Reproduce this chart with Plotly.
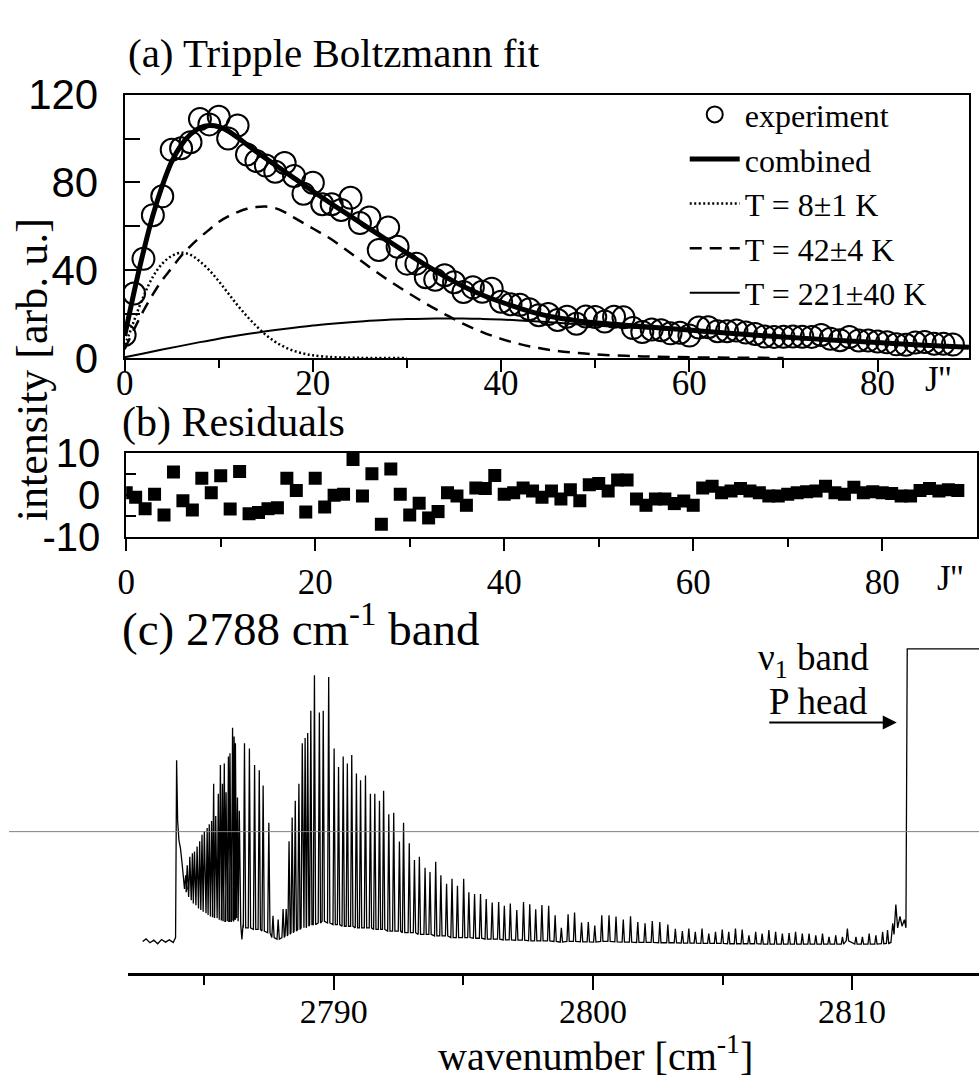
import plotly.graph_objects as go

W, H = 979, 1092
def px(x): return x / W
def py(y): return 1 - y / H

SERIF = "Liberation Serif"
SANS = "Liberation Sans"

# ---------------- panel (a): rotational population ----------------
J = list(range(89))
experiment = [10.5, 29.4, 45.2, 65.1, 73.7, 94.9, 95.6, 98.4, 108.9, 106.5,
              110.0, 100.1, 106.0, 92.8, 89.8, 87.7, 84.9, 88.9, 83.0, 74.9,
              79.9, 70.1, 70.1, 67.5, 73.0, 61.5, 64.0, 49.2, 59.5, 50.7,
              43.0, 43.0, 36.8, 35.7, 37.7, 34.5, 30.1, 32.2, 30.2, 31.6,
              25.6, 24.5, 24.2, 22.2, 19.5, 20.0, 17.3, 18.8, 15.6, 18.9,
              18.7, 16.6, 18.8, 18.5, 13.6, 11.8, 13.0, 12.6, 11.2, 11.5,
              10.2, 13.9, 14.0, 12.2, 12.2, 12.5, 11.6, 10.9, 9.8, 9.6,
              9.7, 9.8, 9.7, 9.6, 10.5, 8.7, 8.1, 9.5, 8.0, 7.9,
              7.5, 7.1, 6.2, 6.0, 7.0, 7.3, 6.5, 6.5, 6.1]

comb_J = [0, 0.5, 1, 1.5, 2, 3, 4, 5, 6, 7, 8, 9, 10, 11, 12, 14, 16, 18, 20, 22, 24, 26, 28,
          30, 32, 34, 36, 38, 40, 42, 44, 46, 48, 50, 55, 60, 65, 70, 75, 80, 85, 89.7]
comb_val = [10, 20, 30, 39.5, 48.5, 65, 78.5, 89.5, 97, 102, 105, 106, 105.5, 103.5, 100.5, 94,
            88, 82, 76, 70.2, 64.6, 59, 53.4, 47.8, 42.3, 37.2, 32.6, 28.7, 25.5, 22.6, 20.1,
            18.3, 17, 16, 14.3, 12.7, 11, 9.6, 8.2, 7, 5.8, 4.9]

t8_J = [0, 0.5, 1, 2, 3, 4, 5, 6, 7, 8, 9, 10, 11, 12, 13, 14, 15, 16, 17, 18, 19, 20, 22, 24, 26, 30]
t8_val = [6, 11, 17, 28, 37, 43, 46.5, 48, 47, 44, 40, 35, 29.5, 24, 19, 14.5, 10.5, 7.3, 5,
          3.2, 2, 1.2, 0.4, 0.1, 0, 0]

t42_J = [0, 1, 2, 3, 4, 5, 6, 7, 8, 9, 10, 11, 12, 13, 14, 15, 16, 17, 18, 20, 22, 24, 26, 28,
         30, 32, 34, 36, 38, 40, 42, 44, 46, 48, 50, 55, 60, 65, 70]
t42_val = [4, 13, 21.5, 29, 35.5, 41, 46.5, 51, 55, 58.5, 62, 64.5, 66.5, 68, 68.8, 69, 68.3,
           66.5, 64, 59, 54, 47.8, 41.5, 35.5, 30, 24.8, 20, 15.5, 11.8, 8.7, 6.3, 4.5, 3.2,
           2.3, 1.6, 0.7, 0.3, 0.1, 0]

t221_J = [0, 2, 4, 6, 8, 10, 12, 14, 16, 18, 20, 22, 24, 26, 28, 30, 32, 34, 36, 38, 40, 42,
          44, 46, 48, 50, 55, 60, 65, 70, 75, 80, 85, 89.7]
t221_val = [0.3, 2, 3.8, 5.5, 7.2, 8.8, 10.2, 11.5, 12.7, 13.8, 14.8, 15.6, 16.3, 16.9, 17.4,
            17.7, 17.9, 18, 18, 17.8, 17.5, 17.1, 16.6, 16, 15.4, 14.8, 13.5, 12.4, 11, 9.6,
            8.2, 7, 5.8, 4.9]

# ---------------- panel (b): residuals ----------------
residual = [0.5, -0.6, -3.3, 0.1, -4.8, 5.4, -1.4, -3.6, 3.9, 0.5,
            4.5, -3.4, 5.5, -4.5, -4.2, -3.3, -3.1, 3.9, 1.0, -4.1,
            3.9, -2.9, -0.1, 0.1, 8.4, -0.3, 5.0, -7.0, 6.1, 0.1,
            -4.8, -2.0, -5.5, -4.0, 0.5, -0.3, -2.5, 1.6, 1.5, 4.6,
            0.1, 0.5, 1.6, 0.9, -0.6, 0.9, -1.0, 1.2, -1.4, 2.4,
            2.7, 0.9, 3.5, 3.5, -1.0, -2.5, -1.0, -1.0, -2.1, -1.5,
            -2.5, 1.6, 2.0, 0.5, 0.9, 1.5, 0.9, 0.5, -0.3, -0.3,
            0.1, 0.5, 0.7, 0.9, 2.0, 0.5, 0.1, 1.8, 0.5, 0.7,
            0.5, 0.3, -0.3, -0.3, 1.0, 1.5, 0.9, 1.2, 1.0]

# ---------------- panel (c): spectrum ----------------
lead_wn = [2782.62, 2782.75, 2782.9, 2783.05, 2783.2, 2783.35, 2783.5, 2783.65, 2783.8, 2783.89,
           2783.93, 2783.97, 2784.02, 2784.08, 2784.14, 2784.2]
lead_val = [9.8, 10.6, 9.4, 10.2, 9.1, 10.4, 9.6, 10.3, 9.5, 11.0,
            65.7, 47.0, 41.0, 38.5, 34.0, 30.0]

peak_wn = [2784.28, 2784.34, 2784.44, 2784.54, 2784.62, 2784.72, 2784.82, 2784.91, 2785.00, 2785.11,
           2785.19, 2785.28, 2785.36, 2785.44, 2785.54, 2785.62, 2785.70, 2785.77, 2785.84, 2785.93,
           2785.99, 2786.09, 2786.15, 2786.20, 2786.28, 2786.35, 2786.45,
           2786.55, 2786.74, 2786.94, 2787.12, 2787.27, 2787.49,
           2787.65, 2787.85, 2788.04,
           2788.16, 2788.27, 2788.39, 2788.51, 2788.65, 2788.78, 2788.89, 2788.99, 2789.11, 2789.25,
           2789.44, 2789.59, 2789.80, 2790.01, 2790.18, 2790.36, 2790.52, 2790.69, 2790.87, 2791.03,
           2791.22, 2791.41, 2791.58, 2791.76, 2791.92,
           2792.12, 2792.31, 2792.53, 2792.69, 2792.91, 2793.11, 2793.30, 2793.52, 2793.71, 2793.93,
           2794.13, 2794.35, 2794.56, 2794.77, 2795.01, 2795.21, 2795.43, 2795.66, 2795.88, 2796.11,
           2796.36, 2796.58, 2796.81, 2797.06, 2797.32, 2797.56, 2797.79, 2798.03, 2798.29, 2798.54,
           2798.78, 2799.04, 2799.29, 2799.56, 2799.82, 2800.07, 2800.34, 2800.62, 2800.89, 2801.17,
           2801.45, 2801.73, 2802.01, 2802.29, 2802.58, 2802.89, 2803.18,
           2803.45, 2803.70, 2803.95, 2804.21, 2804.47, 2804.73, 2804.99, 2805.24, 2805.50, 2805.76,
           2806.02, 2806.28, 2806.53, 2806.79, 2807.05, 2807.31, 2807.57, 2807.82, 2808.08, 2808.34,
           2808.60, 2808.86, 2809.11, 2809.37, 2809.63, 2809.82, 2810.15, 2810.40, 2810.66, 2810.92,
           2811.18, 2811.37]
peak_top = [30.2, 33.3, 35.9, 37.0, 37.5, 39.1, 40.7, 42.7, 43.8, 44.8,
            45.9, 46.9, 58.4, 48.5, 55.3, 64.2, 58.4, 64.7, 55.8, 66.8,
            67.8, 75.7, 73.0, 70.9, 54.2, 50.1, 10.4,
            70.9, 69.3, 64.2, 62.6, 57.9, 46.4,
            17.7, 16.6, 19.8,
            19.8, 40.7, 48.0, 53.2, 58.4, 70.9, 72.5, 74.1, 80.9, 91.9,
            80.4, 80.9, 91.3, 69.3, 63.6, 66.8, 64.7, 67.3, 61.6, 59.5,
            61.0, 55.3, 55.3, 53.2, 56.3,
            49.0, 49.5, 40.6, 46.4, 40.1, 34.9, 35.9, 32.5, 31.2, 34.4,
            30.2, 27.6, 29.1, 27.0, 29.1, 25.0, 24.4, 24.4, 22.9, 21.8,
            22.0, 20.8, 21.5, 19.5, 22.0, 21.3, 19.7, 21.0, 20.8, 17.9,
            14.0, 18.2, 18.7, 15.6, 15.8, 14.7, 17.9, 17.9, 17.5, 16.6,
            17.6, 15.8, 15.4, 16.1, 15.8, 15.0, 13.7,
            13.0, 13.8, 12.8, 13.8, 12.2, 12.8, 13.5, 12.8, 13.8, 13.5,
            11.7, 12.8, 12.2, 13.3, 12.8, 12.2, 12.4, 12.8, 12.2, 12.2,
            11.7, 12.2, 11.2, 11.7, 11.2, 13.8, 11.2, 11.2, 12.2, 11.7,
            12.8, 13.3]
peak_base = [26, 25, 23.5, 22.5, 21.5, 21, 20, 19.5, 19, 18.5,
             18, 17.5, 17.5, 17, 17, 16.5, 16.5, 16, 16, 16,
             16, 16, 16.5, 17, 18, 16, 15,
             14, 14, 13.5, 13.5, 13, 12.5,
             11, 10.5, 11,
             11.5, 12, 12.5, 13, 13.5, 14, 14, 14.5, 15, 15,
             15.5, 16, 15.5, 15, 15, 14.5, 14.5, 14.5, 14, 14,
             14, 14, 13.5, 13.5, 13.5,
             13, 13, 13, 12.5, 12.5, 12.5, 12, 12, 12, 11.5,
             11.5, 11.5, 11, 11, 11, 11, 10.8, 10.8, 10.5, 10.5,
             10.5, 10.3, 10.3, 10.2, 10.2, 10, 10, 10, 10, 9.8,
             9.6, 9.8, 9.8, 9.7, 9.7, 9.6, 9.8, 9.8, 9.7, 9.6,
             9.6, 9.5, 9.5, 9.5, 9.4, 9.4, 9.4,
             9.3, 9.3, 9.3, 9.2, 9.2, 9.2, 9.2, 9.1, 9.1, 9.1,
             9.1, 9.1, 9.0, 9.0, 9.0, 9.0, 9.0, 9.0, 9.0, 9.0,
             9.0, 9.0, 9.0, 9.0, 9.0, 10.0, 9.0, 9.0, 9.0, 9.0,
             9.1, 9.2]

tail_wn = [2811.5, 2811.57, 2811.62, 2811.69, 2811.76, 2811.85, 2811.93, 2812.02, 2812.08, 2812.13, 2815.5]
tail_val = [9.5, 15.4, 12.0, 21.2, 14.0, 17.5, 14.5, 16.5, 14.0, 100.0, 100.0]

HW = 0.045  # half width of each drawn spike (cm-1)
spec_x, spec_y = list(lead_wn), list(lead_val)
for wn, top, base in zip(peak_wn, peak_top, peak_base):
    spec_x += [wn - HW, wn, wn + HW]
    spec_y += [base, top, base]
spec_x += tail_wn
spec_y += tail_val

# ---------------- figure ----------------
fig = go.Figure()

fig.add_trace(go.Scatter(x=J, y=experiment, mode="markers", name="experiment",
                         marker=dict(symbol="circle-open", size=22, color="black",
                                     line=dict(width=2, color="black")),
                         legendrank=1, legendgroup="g1", xaxis="x", yaxis="y"))
fig.add_trace(go.Scatter(x=t8_J, y=t8_val, mode="lines", name="T = 8±1 K",
                         line=dict(color="black", width=2.5, dash="2px,2.5px", shape="spline"),
                         legendrank=3, legendgroup="g3", xaxis="x", yaxis="y"))
fig.add_trace(go.Scatter(x=t42_J, y=t42_val, mode="lines", name="T = 42±4 K",
                         line=dict(color="black", width=2.5, dash="12px,8px", shape="spline"),
                         legendrank=4, legendgroup="g4", xaxis="x", yaxis="y"))
fig.add_trace(go.Scatter(x=t221_J, y=t221_val, mode="lines", name="T = 221±40 K",
                         line=dict(color="black", width=2, shape="spline"),
                         legendrank=5, legendgroup="g5", xaxis="x", yaxis="y"))
fig.add_trace(go.Scatter(x=comb_J, y=comb_val, mode="lines", name="combined",
                         line=dict(color="black", width=5, shape="spline"),
                         legendrank=2, legendgroup="g2", xaxis="x", yaxis="y"))

fig.add_trace(go.Scatter(x=J, y=residual, mode="markers", showlegend=False,
                         marker=dict(symbol="square", size=13, color="black"),
                         xaxis="x2", yaxis="y2"))

fig.add_trace(go.Scatter(x=spec_x, y=spec_y, mode="lines", showlegend=False,
                         line=dict(color="black", width=1.3),
                         xaxis="x3", yaxis="y3"))

axis_common = dict(showline=True, linecolor="black", linewidth=2, showgrid=False,
                   zeroline=False, tickcolor="black", tickwidth=2)

fig.update_layout(
    width=W, height=H, margin=dict(l=0, r=0, t=0, b=0),
    paper_bgcolor="white", plot_bgcolor="white",
    font=dict(family=SERIF, color="black"),
    xaxis=dict(axis_common, domain=[px(116.7), px(969)], range=[0, 89.72], anchor="y",
               mirror=True, ticks="outside", ticklen=12, ticklabelstandoff=-19,
               tickvals=[0, 20, 40, 60, 80], ticktext=["0", "20", "40", "60", "80"],
               tickfont=dict(family=SERIF, size=35),
               minor=dict(tickvals=[10, 30, 50, 70], ticks="outside", ticklen=8,
                          tickwidth=2, tickcolor="black")),
    yaxis=dict(axis_common, domain=[py(350), py(75)], range=[0, 120], anchor="x",
               mirror=True, ticks="inside", ticklen=15,
               tickvals=[0, 40, 80, 120], ticktext=["0", "40", "80", "120"],
               tickfont=dict(family=SANS, size=42), ticklabelstandoff=16,
               minor=dict(tickvals=[20, 60, 100], ticks="inside", ticklen=15,
                          tickwidth=2, tickcolor="black")),
    xaxis2=dict(axis_common, domain=[px(118.3), px(976.7)], range=[0, 90], anchor="y2",
                mirror=True, ticks="outside", ticklen=12, ticklabelstandoff=1,
                tickvals=[0, 20, 40, 60, 80], ticktext=["0", "20", "40", "60", "80"],
                tickfont=dict(family=SERIF, size=35),
                minor=dict(tickvals=[10, 30, 50, 70], ticks="outside", ticklen=8,
                           tickwidth=2, tickcolor="black")),
    yaxis2=dict(axis_common, domain=[py(537), py(449)], range=[-10, 10], anchor="x2",
                mirror=True, ticks="inside", ticklen=10,
                tickvals=[-10, 0, 10], ticktext=["-10", "0", "10"],
                tickfont=dict(family=SANS, size=40), ticklabelstandoff=16,
                minor=dict(tickvals=[-5, 5], ticks="inside", ticklen=10,
                           tickwidth=2, tickcolor="black")),
    xaxis3=dict(axis_common, linewidth=3, domain=[px(120), 1.0], range=[2782.05, 2814.9],
                anchor="y3", ticks="outside", ticklen=14, ticklabelstandoff=-8,
                tickvals=[2790, 2800, 2810], ticktext=["2790", "2800", "2810"],
                tickfont=dict(family=SERIF, size=34),
                minor=dict(tickvals=[2785, 2795, 2805, 2815], ticks="outside", ticklen=9,
                           tickwidth=2, tickcolor="black")),
    yaxis3=dict(domain=[py(993), py(652)], range=[0, 100.6], anchor="x3", visible=False),
    showlegend=True,
    legend=dict(x=px(682), y=py(67), xanchor="left", yanchor="top", itemwidth=50,
                font=dict(family=SERIF, size=32, color="black"),
                bgcolor="rgba(0,0,0,0)", tracegroupgap=0, traceorder="grouped"),
)

def label(text, x, y, size, xanchor="left", angle=0):
    fig.add_annotation(text=text, x=px(x), y=py(y), xref="paper", yref="paper",
                       xanchor=xanchor, yanchor="middle", showarrow=False, textangle=angle,
                       font=dict(family=SERIF, size=size, color="black"))

label("(a) Tripple Boltzmann fit", 118, 31, 41)
label("(b) Residuals", 112, 417, 42)
label("(c) 2788 cm<sup>-1</sup> band", 112, 630, 47)
label("J''", 938, 373, 35, "center")
label("J''", 950, 580, 35, "center")
label("intensity [arb. u.]", 24, 362, 44, "center", -90)
label("wavenumber [cm<sup>-1</sup>]", 592, 1077, 40, "center")
label("ν<sub>1</sub> band", 754, 666, 37)
label("P head", 765, 709, 37)

fig.add_annotation(x=px(896), y=py(731), xref="paper", yref="paper",
                   ax=-129, ay=0, axref="pixel", ayref="pixel", text="",
                   showarrow=True, arrowhead=2, arrowsize=1.4, arrowwidth=2,
                   arrowcolor="black")

# thin grey scan line crossing panel (c)
fig.add_shape(type="line", xref="paper", yref="paper", x0=0, x1=1, y0=py(845), y1=py(845),
              line=dict(color="#808080", width=1))

fig.write_html("out.html", config={"displayModeBar": False},
               post_script="document.documentElement.style.margin='0';"
                           "document.body.style.margin='0';"
                           "document.body.style.overflow='hidden';"
                           "document.documentElement.style.overflow='hidden';")
